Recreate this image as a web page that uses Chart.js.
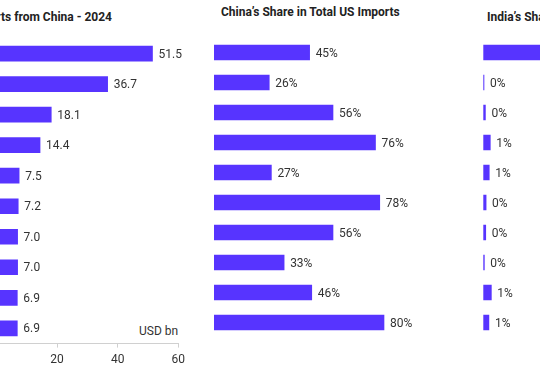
<!DOCTYPE html>
<html>
<head>
<meta charset="utf-8">
<script src="https://cdn.jsdelivr.net/npm/chart.js@4/dist/chart.umd.min.js"></script>
<style>
  html, body { margin: 0; padding: 0; background: #fff; }
  #wrap { position: relative; width: 540px; height: 370px; overflow: hidden; font-family: Roboto, "Noto Sans", sans-serif; }
  canvas { position: absolute; top: 0; }
  .ttl { position: absolute; font-weight: bold; font-size: 12px; color: #222; white-space: nowrap; }
  #unit { position: absolute; font-size: 12px; color: #333; }
</style>
</head>
<body>
<div id="wrap">
  <div class="ttl" id="t1" style="right:428px; top:10px;">Top US Imports from China - 2024</div>
  <div class="ttl" id="t2" style="left:221px; top:5px;">China’s Share in Total US Imports</div>
  <div class="ttl" id="t3" style="left:487px; top:10px;">India’s Share in Total US Imports</div>
  <div id="unit" style="left:139px; top:324px;">USD bn</div>
  <canvas id="c1" width="254" height="376" style="left:-64px;"></canvas>
  <canvas id="c2" width="240" height="370" style="left:200px;"></canvas>
  <canvas id="c3" width="300" height="370" style="left:470px;"></canvas>
</div>
<script>
// Productos (las etiquetas quedan fuera del recorte)
const products = [
    "Smartphones", "Laptops", "Lithium-ion batteries", "Video game consoles", "Toys",
    "Computer monitors", "Furniture", "Electric heaters", "Tablets", "Dolls & stuffed toys"
];
// Importaciones desde China 2024 (USD bn)
const importsChina = [51.5, 36.7, 18.1, 14.4, 7.5, 7.2, 7.0, 7.0, 6.9, 6.9];
// Participación de China en importaciones de EE.UU. (%)
const chinaShare = [45, 26, 56, 76, 27, 78, 56, 33, 46, 80];
// Participación de India (%)
const indiaShare = [12, 0.1, 0.3, 1.0, 0.85, 0.4, 0.35, 0.15, 1.15, 0.8];
const xTicks = [0, 20, 40, 60];

const barColor = '#5734FF';
const textColor = '#333';

// Dibuja el valor al final de cada barra
const valueLabels = {
    id: 'valueLabels',
    afterDatasetsDraw(chart, args, opts) {
        const ctx = chart.ctx;
        const meta = chart.getDatasetMeta(0);
        const data = chart.data.datasets[0].data;
        ctx.save();
        ctx.font = '12px Roboto, "Noto Sans", sans-serif';
        ctx.fillStyle = textColor;
        ctx.textAlign = 'left';
        ctx.textBaseline = 'middle';
        meta.data.forEach((bar, i) => {
            ctx.fillText(opts.format(data[i]), bar.x + 6, bar.y + 1);
        });
        ctx.restore();
    }
};

function makeChart(id, values, xMax, padding, format, showAxis) {
    return new Chart(document.getElementById(id), {
        type: 'bar',
        data: {
            labels: products,
            datasets: [{
                data: values,
                backgroundColor: barColor,
                borderWidth: 0,
                barThickness: 15
            }]
        },
        options: {
            indexAxis: 'y',
            responsive: false,
            animation: false,
            layout: { padding: padding },
            plugins: {
                legend: { display: false },
                tooltip: { enabled: false },
                valueLabels: { format: format }
            },
            scales: {
                y: { display: false },
                x: showAxis ? {
                    min: 0,
                    max: xMax,
                    afterBuildTicks: axis => { axis.ticks = xTicks.map(v => ({ value: v })); },
                    grid: { drawOnChartArea: false, drawTicks: true, tickLength: 4, color: '#d0d0d0' },
                    border: { color: '#d0d0d0' },
                    ticks: { color: textColor, font: { size: 12, family: 'Roboto' }, padding: 5 }
                } : { display: false, min: 0, max: xMax }
            }
        },
        plugins: [valueLabels]
    });
}

makeChart('c1', importsChina, 60, { left: 60.4, right: 8.7, top: 38.3, bottom: 4 }, v => v.toFixed(1), true);
makeChart('c2', chinaShare, 100, { left: 14, right: 13.5, top: 37.5, bottom: 32.5 }, v => v + '%', false);
makeChart('c3', indiaShare, 30, { left: 13.3, right: 76.7, top: 37.5, bottom: 32.5 }, v => Math.round(v) + '%', false);
</script>
</body>
</html>
